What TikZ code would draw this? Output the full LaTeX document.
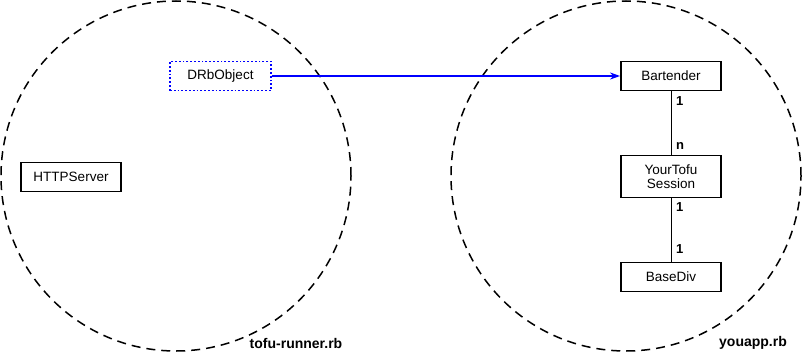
\documentclass[tikz,border=0pt]{standalone}
\usepackage{fontspec}
\setmainfont{Liberation Sans}
\usetikzlibrary{arrows.meta}
\tikzset{
  zone/.style={circle,draw,line width=1.5pt,dash pattern=on 9pt off 6pt,minimum size=350pt,inner sep=0pt},
  cls/.style={draw,line width=1.8pt,minimum width=100pt,minimum height=29pt,inner sep=2pt,align=center},
  remote/.style={cls,draw=blue,dash pattern=on 1.8pt off 2pt,line width=1.8pt},
  mult/.style={font=\fontsize{13}{15}\selectfont\bfseries,anchor=west,inner sep=0pt},
  file/.style={font=\fontsize{14}{16}\selectfont\bfseries,inner sep=0pt}
}
\begin{document}
\begin{tikzpicture}[x=1pt,y=-1pt,every node/.style={font=\fontsize{13.5}{16}\selectfont}]
  \useasboundingbox (0,0) rectangle (803,361);
  % the two processes
  \node[zone] (runner) at (176,176) {};
  \node[zone] (app) at (626,176) {};
  \node[file] (runnerlbl) at (296,343) {tofu-runner.rb};
  \node[file] (applbl) at (753,343) {youapp.rb};
  % tofu-runner side
  \node[remote,minimum width=101pt] (drb) at (220.5,76) {DRbObject};
  \node[cls] (http) at (71,177) {HTTPServer};
  % application side
  \node[cls] (bartender) at (671,76) {Bartender};
  \node[cls,minimum height=42pt,inner sep=1pt] (session) at (671,176.5) {YourTofu\\[-2pt]Session};
  \node[cls] (basediv) at (671,277) {BaseDiv};
  \draw[blue,line width=2pt,-{Stealth[length=10pt,width=7pt]}] (drb) -- (bartender);
  \draw[line width=0.8pt] (bartender) -- (session);
  \draw[line width=0.8pt] (session) -- (basediv);
  \node[mult] (m1) at (676,101) {1};
  \node[mult] (m2) at (676,146) {n};
  \node[mult] (m3) at (676,207) {1};
  \node[mult] (m4) at (676,249) {1};
\end{tikzpicture}
\end{document}
